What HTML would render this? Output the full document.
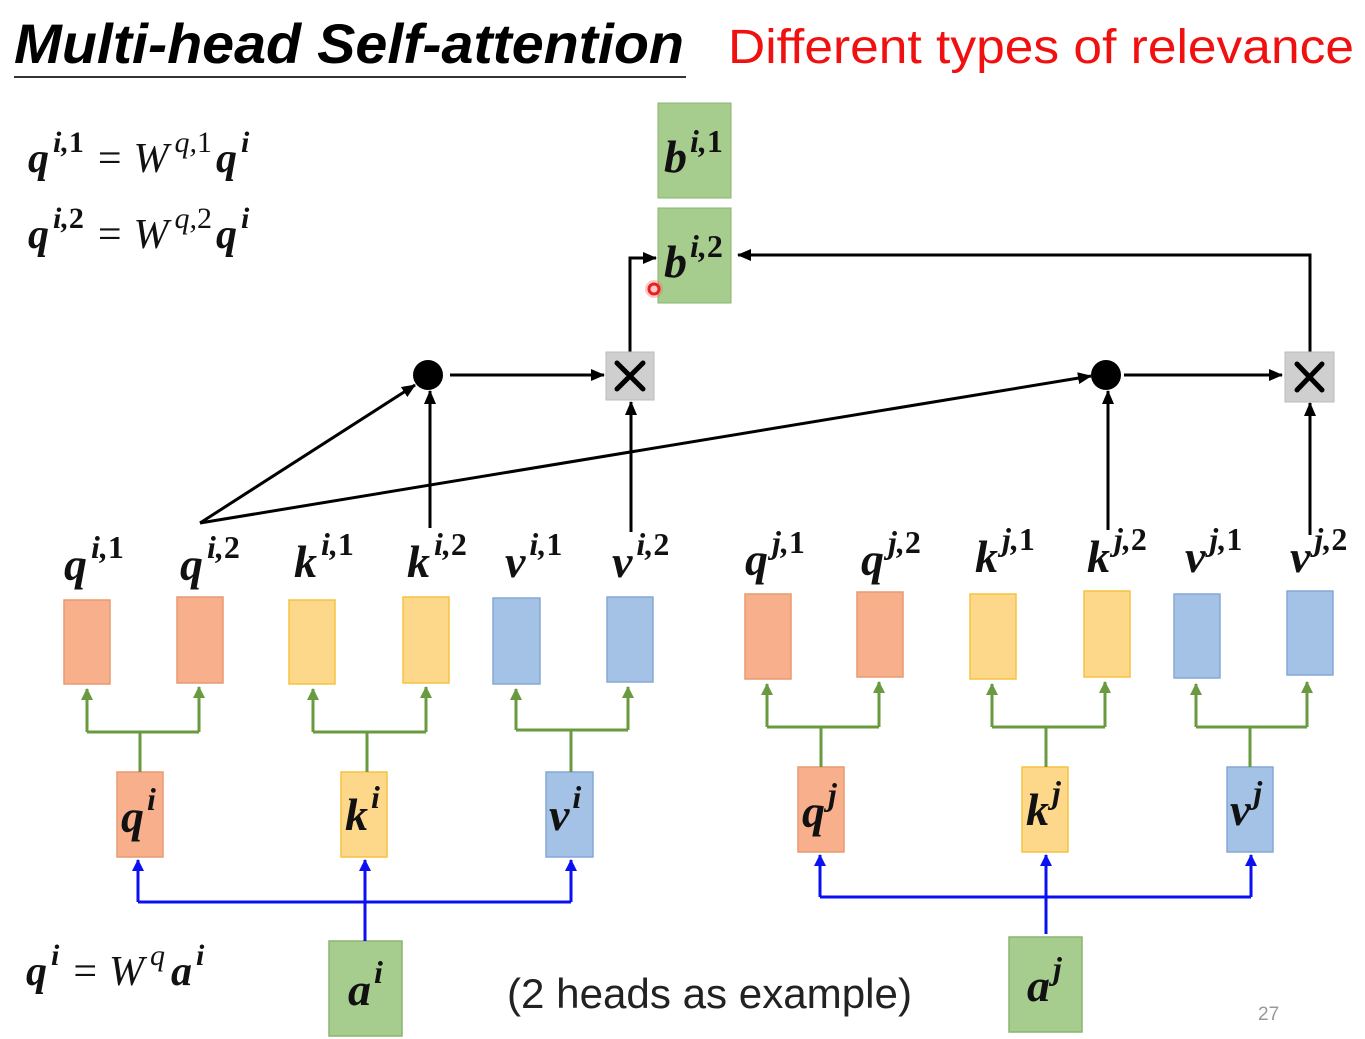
<!DOCTYPE html>
<html><head><meta charset="utf-8"><style>
html,body{margin:0;padding:0;background:#fff;}
svg{display:block;}
.m{font-family:"Liberation Serif",serif;font-weight:bold;font-style:italic;font-size:46px;fill:#111;}
.e{font-family:"Liberation Serif",serif;font-style:italic;font-size:42px;fill:#111;}
.n{font-style:normal;}
</style></head><body>
<svg width="1365" height="1039" viewBox="0 0 1365 1039" xmlns="http://www.w3.org/2000/svg">
<defs>
<marker id="ak2" markerWidth="14" markerHeight="12" refX="13" refY="6" orient="auto" markerUnits="userSpaceOnUse"><path d="M0,0 L14,6 L0,12 z" fill="#000"/></marker>
<marker id="ag" markerWidth="12" markerHeight="12" refX="11" refY="6" orient="auto" markerUnits="userSpaceOnUse"><path d="M0,0 L12,6 L0,12 z" fill="#6a9a40"/></marker>
<marker id="ab" markerWidth="12" markerHeight="12" refX="11" refY="6" orient="auto" markerUnits="userSpaceOnUse"><path d="M0,0 L12,6 L0,12 z" fill="#0a10f0"/></marker>
</defs>

<!-- title -->
<text x="14" y="63" font-family="Liberation Sans,sans-serif" font-weight="bold" font-style="italic" font-size="56" fill="#000" textLength="670" lengthAdjust="spacingAndGlyphs">Multi-head Self-attention</text>
<line x1="14" y1="77" x2="686" y2="77" stroke="#333" stroke-width="2"/>
<text x="728" y="63" font-family="Liberation Sans,sans-serif" font-size="48" fill="#f01010" textLength="626" lengthAdjust="spacingAndGlyphs">Different types of relevance</text>

<!-- equations -->
<text x="28" y="172" class="e"><tspan font-weight="bold">q</tspan><tspan dx="4" dy="-20" font-size="30" font-weight="bold">i,<tspan class="n">1</tspan></tspan><tspan dx="14" dy="20" class="n">=</tspan><tspan dx="12">W</tspan><tspan dx="6" dy="-20" font-size="30">q,<tspan class="n">1</tspan></tspan><tspan dx="4" dy="20" font-weight="bold">q</tspan><tspan dx="4" dy="-20" font-size="30" font-weight="bold">i</tspan></text>
<text x="28" y="248" class="e"><tspan font-weight="bold">q</tspan><tspan dx="4" dy="-20" font-size="30" font-weight="bold">i,<tspan class="n">2</tspan></tspan><tspan dx="14" dy="20" class="n">=</tspan><tspan dx="12">W</tspan><tspan dx="6" dy="-20" font-size="30">q,<tspan class="n">2</tspan></tspan><tspan dx="4" dy="20" font-weight="bold">q</tspan><tspan dx="4" dy="-20" font-size="30" font-weight="bold">i</tspan></text>
<text x="26" y="985" class="e"><tspan font-weight="bold">q</tspan><tspan dx="4" dy="-20" font-size="30" font-weight="bold">i</tspan><tspan dx="14" dy="20" class="n">=</tspan><tspan dx="12">W</tspan><tspan dx="6" dy="-20" font-size="30">q</tspan><tspan dx="6" dy="20" font-weight="bold">a</tspan><tspan dx="4" dy="-20" font-size="30" font-weight="bold">i</tspan></text>

<text x="507" y="1008" font-family="Liberation Sans,sans-serif" font-size="42" fill="#222" textLength="405" lengthAdjust="spacingAndGlyphs">(2 heads as example)</text>
<text x="1258" y="1020" font-family="Liberation Sans,sans-serif" font-size="19" fill="#999">27</text>

<!-- b boxes -->
<rect x="658" y="103" width="73" height="95" fill="#a6cc8e" stroke="#8ab56e"/>
<rect x="658" y="208" width="73" height="95" fill="#a6cc8e" stroke="#8ab56e"/>
<text x="664" y="172" class="m">b<tspan dx="3" dy="-20" font-size="32">i,<tspan class="n">1</tspan></tspan></text>
<text x="664" y="277" class="m">b<tspan dx="3" dy="-20" font-size="32">i,<tspan class="n">2</tspan></tspan></text>
<circle cx="654" cy="289" r="9" fill="#ff6060" opacity="0.35"/>
<circle cx="654" cy="289" r="5" fill="none" stroke="#e82020" stroke-width="3"/>

<!-- black connectors -->
<g stroke="#000" stroke-width="3" fill="none">
<line x1="200" y1="523" x2="415" y2="385" marker-end="url(#ak2)"/>
<line x1="200" y1="523" x2="1091" y2="376" marker-end="url(#ak2)"/>
<line x1="430" y1="528" x2="430" y2="391" marker-end="url(#ak2)"/>
<line x1="631" y1="532" x2="631" y2="402" marker-end="url(#ak2)"/>
<line x1="450" y1="375" x2="604" y2="375" marker-end="url(#ak2)"/>
<polyline points="630,352 630,258 656,258" marker-end="url(#ak2)"/>
<line x1="1108" y1="530" x2="1108" y2="391" marker-end="url(#ak2)"/>
<line x1="1124" y1="375" x2="1282" y2="375" marker-end="url(#ak2)"/>
<line x1="1310" y1="535" x2="1310" y2="403" marker-end="url(#ak2)"/>
<polyline points="1310,352 1310,255 738,255" marker-end="url(#ak2)"/>
</g>
<circle cx="428" cy="375" r="15" fill="#000"/>
<circle cx="1106" cy="375" r="15" fill="#000"/>
<rect x="606" y="352" width="48" height="48" fill="#cfcfcf" stroke="#bbb"/>
<rect x="1285" y="352" width="49" height="50" fill="#cfcfcf" stroke="#bbb"/>
<g stroke="#000" stroke-width="5" stroke-linecap="round">
<line x1="617" y1="363" x2="643" y2="389"/><line x1="643" y1="363" x2="617" y2="389"/>
<line x1="1297" y1="364" x2="1322" y2="390"/><line x1="1322" y1="364" x2="1297" y2="390"/>
</g>

<!-- top labels -->
<g class="m">
<text x="64" y="580">q<tspan dx="4" dy="-22" font-size="32">i,<tspan class="n">1</tspan></tspan></text>
<text x="180" y="580">q<tspan dx="4" dy="-22" font-size="32">i,<tspan class="n">2</tspan></tspan></text>
<text x="294" y="577">k<tspan dx="4" dy="-22" font-size="32">i,<tspan class="n">1</tspan></tspan></text>
<text x="407" y="577">k<tspan dx="4" dy="-22" font-size="32">i,<tspan class="n">2</tspan></tspan></text>
<text x="505" y="577">v<tspan dx="4" dy="-22" font-size="32">i,<tspan class="n">1</tspan></tspan></text>
<text x="612" y="577">v<tspan dx="4" dy="-22" font-size="32">i,<tspan class="n">2</tspan></tspan></text>
<text x="745" y="575">q<tspan dx="4" dy="-22" font-size="32">j,<tspan class="n">1</tspan></tspan></text>
<text x="861" y="575">q<tspan dx="4" dy="-22" font-size="32">j,<tspan class="n">2</tspan></tspan></text>
<text x="975" y="572">k<tspan dx="4" dy="-22" font-size="32">j,<tspan class="n">1</tspan></tspan></text>
<text x="1087" y="572">k<tspan dx="4" dy="-22" font-size="32">j,<tspan class="n">2</tspan></tspan></text>
<text x="1185" y="572">v<tspan dx="4" dy="-22" font-size="32">j,<tspan class="n">1</tspan></tspan></text>
<text x="1290" y="572">v<tspan dx="4" dy="-22" font-size="32">j,<tspan class="n">2</tspan></tspan></text>
</g>

<!-- small vectors -->
<g stroke-width="1.5">
<rect x="64" y="600" width="46" height="84" fill="#f8b08c" stroke="#e89a70"/>
<rect x="177" y="597" width="46" height="86" fill="#f8b08c" stroke="#e89a70"/>
<rect x="289" y="600" width="46" height="84" fill="#fed88a" stroke="#f5c240"/>
<rect x="403" y="597" width="46" height="86" fill="#fed88a" stroke="#f5c240"/>
<rect x="493" y="598" width="47" height="86" fill="#a4c2e6" stroke="#86a8d6"/>
<rect x="607" y="597" width="46" height="85" fill="#a4c2e6" stroke="#86a8d6"/>
<rect x="745" y="594" width="46" height="85" fill="#f8b08c" stroke="#e89a70"/>
<rect x="857" y="592" width="46" height="85" fill="#f8b08c" stroke="#e89a70"/>
<rect x="970" y="594" width="46" height="85" fill="#fed88a" stroke="#f5c240"/>
<rect x="1084" y="591" width="46" height="86" fill="#fed88a" stroke="#f5c240"/>
<rect x="1174" y="594" width="46" height="84" fill="#a4c2e6" stroke="#86a8d6"/>
<rect x="1287" y="591" width="46" height="84" fill="#a4c2e6" stroke="#86a8d6"/>
<rect x="117" y="772" width="46" height="85" fill="#f8b08c" stroke="#e89a70"/>
<rect x="341" y="772" width="46" height="85" fill="#fed88a" stroke="#f5c240"/>
<rect x="546" y="772" width="47" height="85" fill="#a4c2e6" stroke="#86a8d6"/>
<rect x="798" y="767" width="46" height="85" fill="#f8b08c" stroke="#e89a70"/>
<rect x="1022" y="767" width="46" height="85" fill="#fed88a" stroke="#f5c240"/>
<rect x="1227" y="767" width="46" height="85" fill="#a4c2e6" stroke="#86a8d6"/>
<rect x="329" y="941" width="73" height="95" fill="#a6cc8e" stroke="#8ab56e"/>
<rect x="1009" y="937" width="73" height="95" fill="#a6cc8e" stroke="#8ab56e"/>
</g>
<g class="m">
<text x="121" y="832">q<tspan dx="3" dy="-22" font-size="32">i</tspan></text>
<text x="345" y="830">k<tspan dx="3" dy="-22" font-size="32">i</tspan></text>
<text x="549" y="830">v<tspan dx="3" dy="-22" font-size="32">i</tspan></text>
<text x="802" y="827">q<tspan dx="3" dy="-22" font-size="32">j</tspan></text>
<text x="1026" y="825">k<tspan dx="3" dy="-22" font-size="32">j</tspan></text>
<text x="1230" y="825">v<tspan dx="3" dy="-22" font-size="32">j</tspan></text>
<text x="348" y="1005">a<tspan dx="3" dy="-22" font-size="32">i</tspan></text>
<text x="1027" y="1001">a<tspan dx="3" dy="-22" font-size="32">j</tspan></text>
</g>

<!-- green connectors -->
<g stroke="#6a9a40" stroke-width="3" fill="none">
<polyline points="140,772 140,732"/><polyline points="87,732 199,732"/>
<line x1="87" y1="732" x2="87" y2="689" marker-end="url(#ag)"/><line x1="199" y1="732" x2="199" y2="687" marker-end="url(#ag)"/>
<polyline points="367,772 367,732"/><polyline points="313,732 426,732"/>
<line x1="313" y1="732" x2="313" y2="689" marker-end="url(#ag)"/><line x1="426" y1="732" x2="426" y2="687" marker-end="url(#ag)"/>
<polyline points="571,772 571,730"/><polyline points="516,730 628,730"/>
<line x1="516" y1="730" x2="516" y2="689" marker-end="url(#ag)"/><line x1="628" y1="730" x2="628" y2="687" marker-end="url(#ag)"/>
<polyline points="821,767 821,727"/><polyline points="767,727 879,727"/>
<line x1="767" y1="727" x2="767" y2="684" marker-end="url(#ag)"/><line x1="879" y1="727" x2="879" y2="682" marker-end="url(#ag)"/>
<polyline points="1046,767 1046,727"/><polyline points="992,727 1105,727"/>
<line x1="992" y1="727" x2="992" y2="684" marker-end="url(#ag)"/><line x1="1105" y1="727" x2="1105" y2="682" marker-end="url(#ag)"/>
<polyline points="1250,767 1250,727"/><polyline points="1196,727 1307,727"/>
<line x1="1196" y1="727" x2="1196" y2="684" marker-end="url(#ag)"/><line x1="1307" y1="727" x2="1307" y2="682" marker-end="url(#ag)"/>
</g>

<!-- blue connectors -->
<g stroke="#0a10f0" stroke-width="3" fill="none">
<polyline points="138,902 571,902"/>
<line x1="365" y1="941" x2="365" y2="860" marker-end="url(#ab)"/>
<line x1="138" y1="902" x2="138" y2="860" marker-end="url(#ab)"/>
<line x1="571" y1="902" x2="571" y2="860" marker-end="url(#ab)"/>
<polyline points="820,897 1251,897"/>
<line x1="1046" y1="934" x2="1046" y2="855" marker-end="url(#ab)"/>
<line x1="820" y1="897" x2="820" y2="855" marker-end="url(#ab)"/>
<line x1="1251" y1="897" x2="1251" y2="855" marker-end="url(#ab)"/>
</g>
</svg>
</body></html>
